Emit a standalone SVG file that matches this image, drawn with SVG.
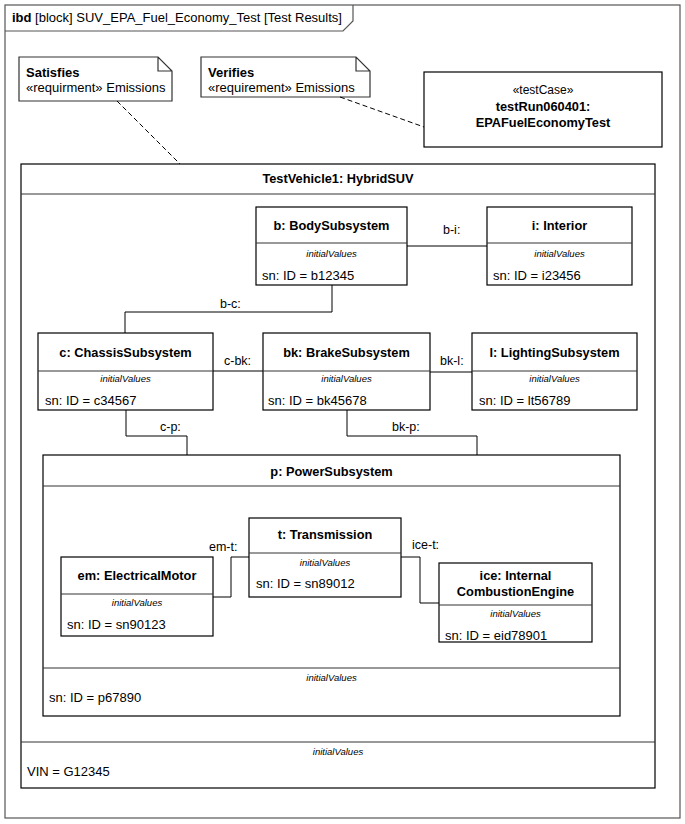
<svg xmlns="http://www.w3.org/2000/svg" width="685" height="824" viewBox="0 0 685 824">
<style>
text{font-family:"Liberation Sans",Arial,sans-serif;fill:#000}
.frame{fill:none;stroke:#555;stroke-width:1.2}
.box{fill:#fff;stroke:#000;stroke-width:1.2}
.div{stroke:#333;stroke-width:1}
.conn{fill:none;stroke:#000;stroke-width:1}
.dash{fill:none;stroke:#000;stroke-width:1;stroke-dasharray:5,3}
.t{font-size:12.8px;font-weight:bold;text-anchor:middle}
.iv{font-size:9.5px;font-style:italic;text-anchor:middle}
.v{font-size:13px}
.lbl{font-size:12.5px}
.note{font-size:13px}
</style>
<rect width="685" height="824" fill="#fff"/>
<g id="frame">
<rect class="frame" x="5" y="5" width="675" height="813"/>
<path class="frame" d="M5,31 H343 L353,21 V5"/>
<text x="12" y="22" style="font-size:13px"><tspan font-weight="bold">ibd</tspan> [block] SUV_EPA_Fuel_Economy_Test [Test Results]</text>
</g>
<g id="note-satisfies">
<path class="frame" style="stroke:#333;fill:#fff" d="M19,57 H158 L172,71 V101 H19 Z M158,57 V71 H172"/>
<text class="note" x="26" y="77" font-weight="bold">Satisfies</text>
<text class="note" x="26" y="92">«requirment» Emissions</text>
</g>
<g id="note-verifies">
<path class="frame" style="stroke:#333;fill:#fff" d="M201,57 H356 L370,71 V97 H201 Z M356,57 V71 H370"/>
<text class="note" x="208" y="77" font-weight="bold">Verifies</text>
<text class="note" x="208" y="92">«requirement» Emissions</text>
</g>
<g id="testCase">
<rect class="box" x="424" y="72" width="238" height="75"/>
<text x="543" y="94" style="font-size:12px;text-anchor:middle">«testCase»</text>
<text class="t" x="543" y="111">testRun060401:</text>
<text class="t" x="543" y="127">EPAFuelEconomyTest</text>
</g>
<g id="testVehicle1">
<rect class="box" x="21" y="164" width="634" height="624"/>
<line class="div" x1="21" y1="194" x2="655" y2="194"/>
<line class="div" x1="21" y1="742" x2="655" y2="742"/>
<text class="t" x="338" y="183">TestVehicle1: HybridSUV</text>
<text class="iv" x="338" y="755">initialValues</text>
<text class="v" x="27" y="776">VIN = G12345</text>
</g>
<g id="body">
<rect class="box" x="256" y="207" width="151" height="78"/>
<line class="div" x1="256" y1="243" x2="407" y2="243"/>
<text class="t" x="331.5" y="230">b: BodySubsystem</text>
<text class="iv" x="331.5" y="257">initialValues</text>
<text class="v" x="262" y="280">sn: ID = b12345</text>
</g>
<g id="interior">
<rect class="box" x="487" y="207" width="145" height="78"/>
<line class="div" x1="487" y1="243" x2="632" y2="243"/>
<text class="t" x="559.5" y="230">i: Interior</text>
<text class="iv" x="559.5" y="257">initialValues</text>
<text class="v" x="493" y="280">sn: ID = i23456</text>
</g>
<g id="chassis">
<rect class="box" x="38" y="333" width="175" height="77"/>
<line class="div" x1="38" y1="371" x2="213" y2="371"/>
<text class="t" x="125.5" y="357">c: ChassisSubsystem</text>
<text class="iv" x="125.5" y="382">initialValues</text>
<text class="v" x="45" y="405">sn: ID = c34567</text>
</g>
<g id="brake">
<rect class="box" x="263" y="333" width="167" height="77"/>
<line class="div" x1="263" y1="371" x2="430" y2="371"/>
<text class="t" x="346.5" y="357">bk: BrakeSubsystem</text>
<text class="iv" x="346.5" y="382">initialValues</text>
<text class="v" x="268" y="405">sn: ID = bk45678</text>
</g>
<g id="lighting">
<rect class="box" x="472" y="333" width="165" height="77"/>
<line class="div" x1="472" y1="371" x2="637" y2="371"/>
<text class="t" x="554.5" y="357">l: LightingSubsystem</text>
<text class="iv" x="554.5" y="382">initialValues</text>
<text class="v" x="479" y="405">sn: ID = lt56789</text>
</g>
<g id="power">
<rect class="box" x="43" y="455" width="577" height="261"/>
<line class="div" x1="43" y1="486" x2="620" y2="486"/>
<line class="div" x1="43" y1="668" x2="620" y2="668"/>
<text class="t" x="331.5" y="476">p: PowerSubsystem</text>
<text class="iv" x="331.5" y="681">initialValues</text>
<text class="v" x="49" y="702">sn: ID = p67890</text>
</g>
<g id="transmission">
<rect class="box" x="249" y="518" width="152" height="79"/>
<line class="div" x1="249" y1="553" x2="401" y2="553"/>
<text class="t" x="325" y="539">t: Transmission</text>
<text class="iv" x="325" y="566">initialValues</text>
<text class="v" x="256" y="588">sn: ID = sn89012</text>
</g>
<g id="electricalMotor">
<rect class="box" x="61" y="557" width="152" height="79"/>
<line class="div" x1="61" y1="594" x2="213" y2="594"/>
<text class="t" x="137" y="580">em: ElectricalMotor</text>
<text class="iv" x="137" y="606">initialValues</text>
<text class="v" x="67" y="629">sn: ID = sn90123</text>
</g>
<g id="ice">
<rect class="box" x="439" y="563" width="153" height="79"/>
<line class="div" x1="439" y1="605" x2="592" y2="605"/>
<text class="t" x="515.5" y="580">ice: Internal</text>
<text class="t" x="515.5" y="596">CombustionEngine</text>
<text class="iv" x="515.5" y="617">initialValues</text>
<text class="v" x="445" y="640">sn: ID = eid78901</text>
</g>
<g id="connectors">
<path class="dash" d="M117,101 L180,164"/>
<path class="dash" d="M340,97 L424,127"/>
<path class="conn" d="M407,246 H487"/>
<path class="conn" d="M332,285 V312 H125 V333"/>
<path class="conn" d="M213,371 H263"/>
<path class="conn" d="M430,372 H472"/>
<path class="conn" d="M126,410 V436 H187 V455"/>
<path class="conn" d="M347,410 V436 H477 V455"/>
<path class="conn" d="M213,597 H231 V557 H249"/>
<path class="conn" d="M401,557 H420 V603 H439"/>
<text class="lbl" x="443" y="234">b-i:</text>
<text class="lbl" x="220" y="308">b-c:</text>
<text class="lbl" x="224" y="365">c-bk:</text>
<text class="lbl" x="440" y="365">bk-l:</text>
<text class="lbl" x="160" y="431">c-p:</text>
<text class="lbl" x="392" y="431">bk-p:</text>
<text class="lbl" x="209" y="551">em-t:</text>
<text class="lbl" x="412" y="549">ice-t:</text>
</g>
</svg>
